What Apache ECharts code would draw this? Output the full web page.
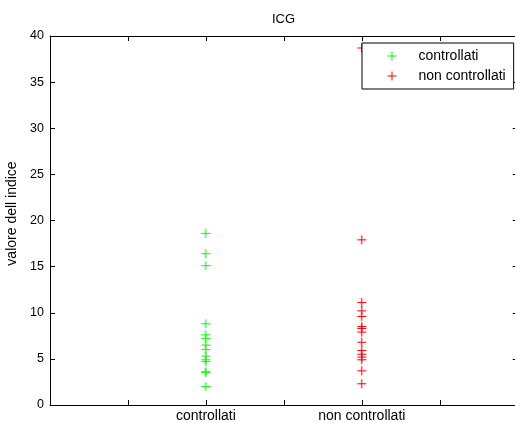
<!DOCTYPE html>
<html>
<head>
<meta charset="utf-8">
<script src="https://cdn.jsdelivr.net/npm/echarts@6/dist/echarts.min.js"></script>
<style>
  html, body { margin: 0; padding: 0; background: #fff; }
  #chart { width: 515px; height: 423px; }
</style>
</head>
<body>
<div id="chart"></div>
<script>
// Groups on the x axis (positions 1 and 2)
const groups = ['controllati', 'non controllati'];
const groupPos = [1, 2];

// Index values per group
const controllati = [18.6, 16.4, 15.1, 8.8, 7.6, 7.2, 6.5, 6.0, 5.3, 4.9, 4.7, 3.6, 3.5, 2.0];
const nonControllati = [38.7, 17.9, 11.1, 10.2, 9.6, 8.5, 8.3, 7.9, 6.8, 5.9, 5.5, 5.2, 4.9, 3.7, 2.3];

const yTicks = [0, 5, 10, 15, 20, 25, 30, 35, 40];

const FONT = 'Liberation Sans, Arial, sans-serif';
const PLUS = 'path://M0,5L10,5M5,0L5,10';

function toPoints(pos, values) {
  return values.map(v => [pos, v]);
}

function plusSeries(name, color, data) {
  return {
    name: name,
    type: 'scatter',
    data: data,
    symbol: PLUS,
    symbolSize: 9,
    itemStyle: { color: 'transparent', borderColor: color, borderWidth: 1, opacity: 1 },
    emphasis: { disabled: true },
    clip: false,
    z: 2
  };
}

const chart = echarts.init(document.getElementById('chart'), null, { renderer: 'canvas' });

const axisLine = { show: true, onZero: false, lineStyle: { color: '#000', width: 1 } };
const tickIn = { show: true, inside: true, length: 5, lineStyle: { color: '#000' } };

chart.setOption({
  animation: false,
  backgroundColor: '#fff',
  textStyle: { fontFamily: FONT },
  title: {
    text: 'ICG',
    left: 272,
    top: 13,
    padding: 0,
    textStyle: { fontFamily: FONT, fontSize: 13, fontWeight: 'normal', color: '#000' }
  },
  legend: {
    left: 362,
    top: 43,
    orient: 'vertical',
    backgroundColor: '#fff',
    borderColor: '#000',
    borderWidth: 1,
    borderRadius: 0,
    padding: [6, 8, 6, 25],
    itemWidth: 9,
    itemHeight: 9,
    itemGap: 6,
    selectedMode: false,
    itemStyle: { borderWidth: 1 },
    textStyle: { fontFamily: FONT, fontSize: 14, lineHeight: 14, color: '#000', padding: [0, 0, 0, 17] },
    data: groups
  },
  grid: { left: 50, top: 36, width: 467.7, height: 369, outerBoundsMode: 'none', containLabel: false },
  xAxis: [{
    type: 'value',
    min: 0, max: 3, interval: 0.5,
    axisLine: axisLine,
    axisTick: tickIn,
    splitLine: { show: false },
    axisLabel: {
      color: '#000', fontSize: 14, fontFamily: FONT, margin: 4,
      formatter: v => {
        const i = groupPos.indexOf(v);
        return i >= 0 ? groups[i] : '';
      }
    }
  }, {
    type: 'value', position: 'top',
    min: 0, max: 3, interval: 0.5,
    axisLine: axisLine, axisTick: tickIn,
    axisLabel: { show: false }, splitLine: { show: false }
  }],
  yAxis: [{
    type: 'value',
    min: yTicks[0], max: yTicks[yTicks.length - 1], interval: 5,
    name: 'valore dell indice',
    nameLocation: 'middle',
    nameGap: 21,
    nameTextStyle: { color: '#000', fontSize: 14, fontFamily: FONT, padding: [0, 0, 0, 14] },
    axisLine: axisLine,
    axisTick: tickIn,
    splitLine: { show: false },
    axisLabel: { color: '#000', fontSize: 12.5, fontFamily: FONT, margin: 6 }
  }, {
    type: 'value', position: 'right',
    min: 0, max: 40, interval: 5,
    axisLine: axisLine, axisTick: tickIn,
    axisLabel: { show: false }, splitLine: { show: false }
  }],
  series: [
    plusSeries(groups[0], '#00ff00', toPoints(groupPos[0], controllati)),
    plusSeries(groups[1], '#ff0000', toPoints(groupPos[1], nonControllati))
  ]
});
</script>
</body>
</html>
